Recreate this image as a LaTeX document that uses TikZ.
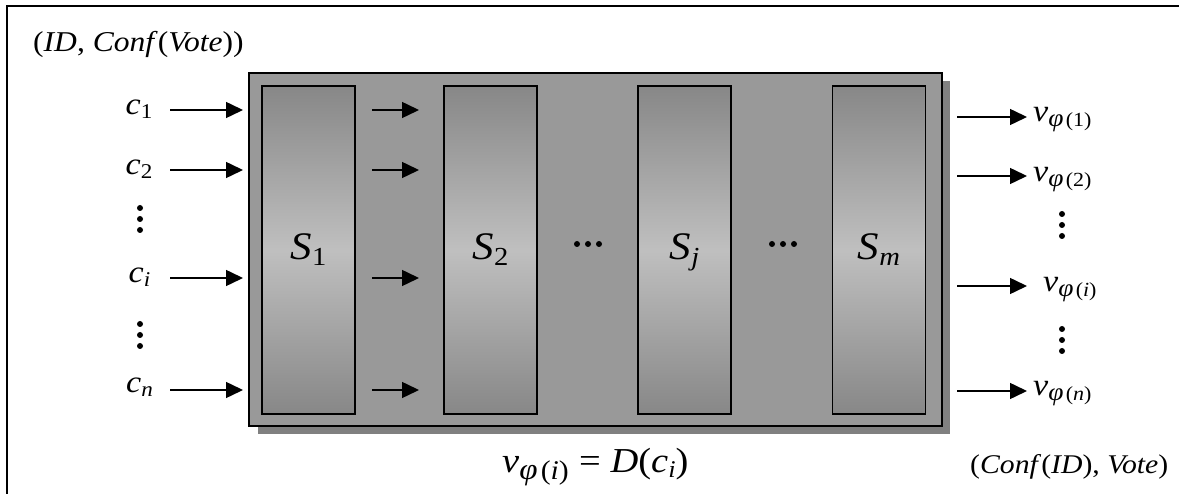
\documentclass[tikz,border=0pt]{standalone}
\usepackage{fontspec}
\usepackage{graphicx}
\setmainfont{Liberation Serif}
\usetikzlibrary{arrows.meta}
\definecolor{boxgray}{gray}{0.6}
\definecolor{shadowgray}{gray}{0.5}
\definecolor{coldark}{gray}{0.53}
\definecolor{collight}{gray}{0.75}
\newcommand\wide[1]{\scalebox{1.1}[1]{#1}}
\newcommand\clbl[1]{\wide{\textit{c}\raisebox{-4pt}{\fontsize{21}{21}\selectfont #1}}}
\newcommand\vlbl[1]{\wide{\textit{v}\raisebox{-5pt}{\fontsize{25}{25}\selectfont\textit{φ}\hspace{2pt}\fontsize{20}{20}\selectfont #1}}}
\newcommand\slbl[1]{\wide{\textit{S}\raisebox{-6pt}{\fontsize{26}{26}\selectfont #1}}}
\begin{document}
\begin{tikzpicture}[x=1pt,y=-1pt,
  arr/.style={line width=1.5pt,-{Triangle[length=17pt,width=16pt]}},
  col/.style={draw=black,line width=1.6pt,top color=coldark,bottom color=coldark,middle color=collight,minimum width=93pt,minimum height=328pt,inner sep=0pt},
  lab/.style={font=\fontsize{31}{31}\selectfont,inner sep=0pt,anchor=base},
  slab/.style={font=\fontsize{39}{39}\selectfont,inner sep=0pt,anchor=base},
  dot/.style={circle,fill=black,inner sep=0pt,minimum size=6pt}]
\useasboundingbox (0,0) rectangle (1179,494);
% outer frame (cropped)
\draw[line width=2pt] (7,500) -- (7,6) -- (1185,6);
% shadow and main box
\fill[shadowgray] (258,81) rectangle (950,434);
\node[draw=black,fill=boxgray,line width=1.6pt,minimum width=693pt,minimum height=353pt,inner sep=0pt] (box) at (595.5,249.5) {};
% stages
\node[col] (s1) at (308.5,250) {};
\node[col] (s2) at (490.5,250) {};
\node[col] (sj) at (684.5,250) {};
\node[col] (sm) at (879,250) {};
\node[slab] (s1l) at (308.5,260) {\slbl{1}};
\node[slab] (s2l) at (490.5,260) {\slbl{2}};
\node[slab] (sjl) at (684.5,260) {\slbl{\textit{j}}};
\node[slab] (sml) at (879,260) {\slbl{\textit{m}}};
% horizontal dots
\foreach \cx/\nm in {588/ha,783/hb}{
  \node[dot] (\nm1) at (\cx-11,244) {};
  \node[dot] (\nm2) at (\cx,244) {};
  \node[dot] (\nm3) at (\cx+11,244) {};
}
% input labels
\node[lab] (c1) at (139,115) {\clbl{1}};
\node[lab] (c2) at (139,175) {\clbl{2}};
\node[lab] (ci) at (139.5,283) {\clbl{\textit{i}}};
\node[lab] (cn) at (139.5,393) {\clbl{\textit{n}}};
% vertical dots left
\foreach \cy/\nm in {219/la,335/lb}{
  \node[dot] (\nm1) at (140,\cy-11) {};
  \node[dot] (\nm2) at (140,\cy) {};
  \node[dot] (\nm3) at (140,\cy+11) {};
}
% vertical dots right
\foreach \cy/\nm in {225/ra,340/rb}{
  \node[dot] (\nm1) at (1062,\cy-11) {};
  \node[dot] (\nm2) at (1062,\cy) {};
  \node[dot] (\nm3) at (1062,\cy+11) {};
}
% output labels
\node[lab,anchor=base west] (v1) at (1033,122) {\vlbl{(1)}};
\node[lab,anchor=base west] (v2) at (1033,182) {\vlbl{(2)}};
\node[lab,anchor=base west] (vi) at (1043,292) {\vlbl{(\textit{i})}};
\node[lab,anchor=base west] (vn) at (1033,396) {\vlbl{(\textit{n})}};
% arrow coordinates
\foreach \y/\nm in {110/1,170/2,278/i,390/n}{
  \coordinate (ins\nm) at (170,\y);
  \coordinate (ine\nm) at (243,\y);
  \coordinate (mds\nm) at (372,\y);
  \coordinate (mde\nm) at (419,\y);
}
\foreach \y/\nm in {117/1,176/2,286/i,391/n}{
  \coordinate (ous\nm) at (957,\y);
  \coordinate (oue\nm) at (1027,\y);
}
\foreach \nm in {1,2,i,n}{
  \draw[arr] (ins\nm) -- (ine\nm);
  \draw[arr] (mds\nm) -- (mde\nm);
  \draw[arr] (ous\nm) -- (oue\nm);
}
% captions
\node[font=\fontsize{28.7}{29}\selectfont,inner sep=0pt,anchor=base west] (top) at (33,52) {\wide{(\textit{ID}, \textit{Conf}(\textit{Vote}))}};
\node[font=\fontsize{27}{27}\selectfont,inner sep=0pt,anchor=base west] (bot) at (970,473) {\wide{(\textit{Conf}(\textit{ID}), \textit{Vote})}};
\node[font=\fontsize{35}{35}\selectfont,inner sep=0pt,anchor=base west] (form) at (502,472) {\makebox[77pt][l]{\wide{\textit{v}\raisebox{-7pt}{\fontsize{30}{30}\selectfont\textit{φ}\hspace{3pt}\fontsize{27}{27}\selectfont(\textit{i})}}}\wide{= \textit{D}(\textit{c}\raisebox{-5pt}{\fontsize{24}{24}\selectfont\textit{i}})}};
\end{tikzpicture}
\end{document}
